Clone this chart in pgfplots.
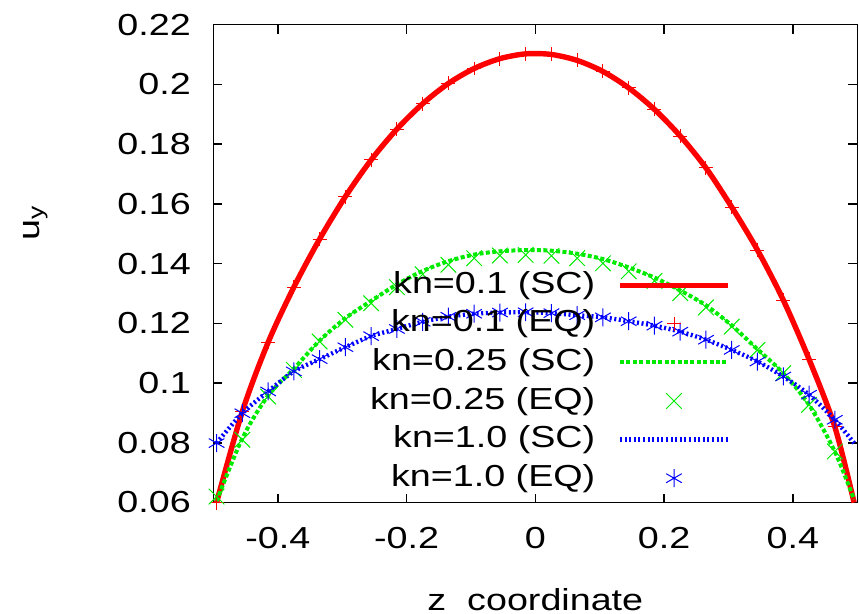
\documentclass[border=0pt]{standalone}
\usepackage{pgfplots}
\pgfplotsset{compat=1.18}
\usepackage{fontspec}
\setmainfont{Liberation Sans}[FakeStretch=1.24]
\definecolor{gpred}{RGB}{255,0,0}
\definecolor{gpgreen}{RGB}{0,235,0}
\definecolor{gpblue}{RGB}{0,0,255}
\pgfplotsset{
  scline/.style={legend image code/.code={\draw[##1] (0pt,0pt) -- (54pt,0pt);}},
  eqmark/.style={legend image code/.code={\draw[##1,mark repeat=2,mark phase=2] plot coordinates {(0pt,0pt) (27pt,0pt) (54pt,0pt)};}},
}
\begin{document}
\fontsize{15.2pt}{18pt}\selectfont
\begin{tikzpicture}
\begin{axis}[
  scale only axis, width=322pt, height=239pt,
  xmin=-0.5, xmax=0.5, ymin=0.06, ymax=0.22,
  xtick={-0.4,-0.2,0,0.2,0.4},
  ytick={0.06,0.08,0.1,0.12,0.14,0.16,0.18,0.2,0.22},
  tick align=inside, tick pos=both,
  major tick length=4.5pt,
  every tick/.style={black, line width=0.8pt},
  axis line style={black, line width=0.8pt},
  /pgf/number format/assume math mode=true,
  /pgf/number format/fixed,
  yticklabel style={xshift=-6pt},
  xticklabel style={yshift=-7pt},
  xlabel={z\ \ coordinate},
  xlabel style={at={(axis description cs:0.5,0)}, anchor=base, yshift=-54pt},
  ylabel={u\textsubscript{y}},
  ylabel style={at={(axis description cs:-0.2702,0.586)}, anchor=base, rotate=0},
  clip=false,
  legend plot pos=right,
  legend cell align=right,
  legend style={draw=none, fill=none, inner sep=0pt, at={(rel axis cs:0.804,0.489)}, anchor=north east,
    row sep=3.3pt, /tikz/column sep=10pt,
    nodes={inner sep=1pt, text height=11pt, text depth=3pt}},
]
\coordinate (SW) at (rel axis cs:0,0);
\coordinate (NE) at (rel axis cs:1,1);
% kn=0.1 SC
\addplot[gpred, line width=2.7pt, smooth, scline] coordinates {
(-0.495,0.0600) (-0.455,0.0905) (-0.415,0.1136) (-0.375,0.1321) (-0.335,0.1482)
(-0.295,0.1624) (-0.255,0.1747) (-0.215,0.1850) (-0.175,0.1935) (-0.135,0.2003)
(-0.095,0.2053) (-0.055,0.2086) (-0.015,0.2102) (0.025,0.2100) (0.065,0.2080)
(0.105,0.2043) (0.145,0.1988) (0.185,0.1916) (0.225,0.1827) (0.265,0.1720)
(0.305,0.1589) (0.345,0.1445) (0.385,0.1278) (0.425,0.1080) (0.465,0.0854) (0.495,0.0600)
};
\addlegendentry{kn=0.1 (SC)}
% kn=0.1 EQ
\addplot[gpred, only marks, mark=+, mark size=3.5pt, line width=0.5pt, eqmark] coordinates {
(-0.495,0.0600) (-0.455,0.0905) (-0.415,0.1136) (-0.375,0.1321) (-0.335,0.1482)
(-0.295,0.1624) (-0.255,0.1747) (-0.215,0.1850) (-0.175,0.1935) (-0.135,0.2003)
(-0.095,0.2053) (-0.055,0.2086) (-0.015,0.2102) (0.025,0.2100) (0.065,0.2080)
(0.105,0.2043) (0.145,0.1988) (0.185,0.1916) (0.225,0.1827) (0.265,0.1720)
(0.305,0.1589) (0.345,0.1445) (0.385,0.1278) (0.425,0.1080) (0.465,0.0854)
};
\addlegendentry{kn=0.1 (EQ)}
% kn=0.25 SC
\addplot[gpgreen, line width=2pt, dash pattern=on 2pt off 1.2pt, smooth, scline] coordinates {
(-0.495,0.0605) (-0.455,0.0815) (-0.415,0.0958) (-0.375,0.1048) (-0.335,0.1142)
(-0.295,0.1217) (-0.255,0.1275) (-0.215,0.1330) (-0.175,0.1375) (-0.135,0.1408)
(-0.095,0.1430) (-0.055,0.1441) (-0.015,0.1445) (0.025,0.1443) (0.065,0.1433)
(0.105,0.1415) (0.145,0.1387) (0.185,0.1353) (0.225,0.1310) (0.265,0.1260)
(0.305,0.1193) (0.345,0.1113) (0.385,0.1033) (0.425,0.0927) (0.465,0.0771) (0.495,0.0610)
};
\addlegendentry{kn=0.25 (SC)}
% kn=0.25 EQ
\addplot[gpgreen, only marks, mark=x, mark size=5.5pt, line width=0.5pt, eqmark] coordinates {
(-0.495,0.0620) (-0.455,0.0810) (-0.415,0.0955) (-0.375,0.1044) (-0.335,0.1139)
(-0.295,0.1212) (-0.255,0.1267) (-0.215,0.1321) (-0.175,0.1364) (-0.135,0.1396)
(-0.095,0.1418) (-0.055,0.1427) (-0.015,0.1429) (0.025,0.1426) (0.065,0.1418)
(0.105,0.1401) (0.145,0.1374) (0.185,0.1342) (0.225,0.1301) (0.265,0.1253)
(0.305,0.1189) (0.345,0.1111) (0.385,0.1033) (0.425,0.0927) (0.465,0.0771)
};
\addlegendentry{kn=0.25 (EQ)}
% kn=1.0 SC
\addplot[gpblue, line width=2.2pt, dash pattern=on 1pt off 1.3pt, smooth, scline] coordinates {
(-0.495,0.0799) (-0.455,0.0899) (-0.415,0.0972) (-0.375,0.1039) (-0.335,0.1080)
(-0.295,0.1120) (-0.255,0.1157) (-0.215,0.1181) (-0.175,0.1205) (-0.135,0.1222)
(-0.095,0.1232) (-0.055,0.1236) (-0.015,0.1237) (0.025,0.1234) (0.065,0.1227)
(0.105,0.1220) (0.145,0.1207) (0.185,0.1192) (0.225,0.1172) (0.265,0.1145)
(0.305,0.1111) (0.345,0.1072) (0.385,0.1022) (0.425,0.0961) (0.465,0.0877) (0.495,0.0799)
};
\addlegendentry{kn=1.0 (SC)}
% kn=1.0 EQ
\addplot[gpblue, only marks, mark=asterisk, mark size=4.5pt, line width=0.5pt, eqmark] coordinates {
(-0.495,0.0799) (-0.455,0.0899) (-0.415,0.0972) (-0.375,0.1039) (-0.335,0.1080)
(-0.295,0.1120) (-0.255,0.1157) (-0.215,0.1181) (-0.175,0.1205) (-0.135,0.1222)
(-0.095,0.1232) (-0.055,0.1236) (-0.015,0.1237) (0.025,0.1234) (0.065,0.1227)
(0.105,0.1220) (0.145,0.1207) (0.185,0.1192) (0.225,0.1172) (0.265,0.1145)
(0.305,0.1111) (0.345,0.1072) (0.385,0.1022) (0.425,0.0961) (0.465,0.0877)
};
\addlegendentry{kn=1.0 (EQ)}
\end{axis}
\pgfresetboundingbox
\path[use as bounding box] ([xshift=-106.7pt,yshift=-55.7pt]SW) rectangle ([xshift=0.85pt,yshift=12.3pt]NE);
\end{tikzpicture}
\end{document}
